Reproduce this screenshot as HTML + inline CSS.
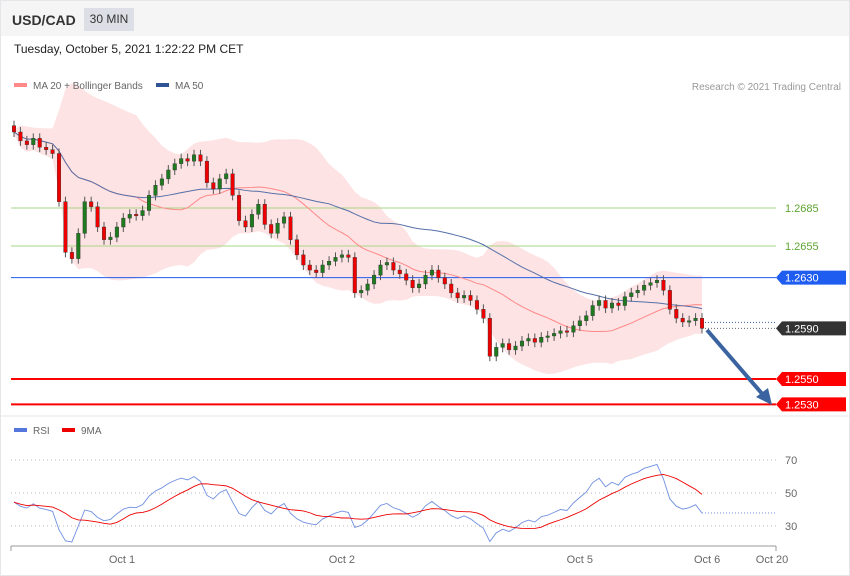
<!DOCTYPE html>
<html><head><meta charset="utf-8">
<style>
body{margin:0;width:850px;height:576px;background:#fff;font-family:"Liberation Sans",sans-serif;overflow:hidden}
#wrap{position:absolute;left:0;top:0;width:848px;height:574px;border:1px solid #e4e6ea}
#hdr{position:absolute;left:0;top:0;width:848px;height:35px;background:#f5f5f6}
#pair{position:absolute;left:11px;top:11px;font-size:14px;font-weight:bold;color:#333}
#tf{position:absolute;left:83px;top:7px;width:50px;height:23px;background:#dcdfe5;font-size:12px;color:#333;text-align:center;line-height:23px}
#date{position:absolute;left:13px;top:41px;font-size:12px;color:#222}
svg{position:absolute;left:0;top:0}
</style></head><body>
<div id="wrap">
<div id="hdr">
<span id="pair">USD/CAD</span>
<span id="tf">30 MIN</span>
</div>
<div id="date">Tuesday, October 5, 2021 1:22:22 PM CET</div>
</div>
<svg id="chart" width="850" height="576"></svg>
<script>
const closes=[1.2745,1.2738,1.2735,1.2740,1.2733,1.2731,1.2728,1.2690,1.2650,1.2645,1.2665,1.2690,1.2686,1.2670,1.2660,1.2662,1.2670,1.2677,1.2680,1.2679,1.2683,1.2695,1.2703,1.2708,1.2715,1.2720,1.2724,1.2722,1.2727,1.2722,1.2705,1.2700,1.2708,1.2712,1.2695,1.2675,1.2670,1.2680,1.2688,1.2672,1.2665,1.2673,1.2678,1.2660,1.2648,1.2640,1.2636,1.2634,1.2640,1.2643,1.2646,1.2648,1.2646,1.2618,1.2620,1.2625,1.2632,1.2640,1.2642,1.2636,1.2633,1.2628,1.2622,1.2625,1.2632,1.2636,1.2630,1.2625,1.2618,1.2614,1.2616,1.2612,1.2605,1.2598,1.2568,1.2575,1.2578,1.2573,1.2576,1.2580,1.2582,1.2579,1.2583,1.2584,1.2586,1.2588,1.2587,1.2592,1.2596,1.2600,1.2608,1.2612,1.2606,1.2610,1.2608,1.2615,1.2618,1.2620,1.2624,1.2626,1.2628,1.2620,1.2605,1.2598,1.2595,1.2596,1.2598,1.2590];
const firstOpen=1.2750;
const rsiSeed=[0.0004,0.0005];
const levels=[1.2685,1.2655,1.2630,1.2590,1.2550,1.2530];
const levelLabels=["1.2685","1.2655","1.2630","1.2590","1.2550","1.2530"];
const rsiTicks=[70,50,30];
const dateLabels=["Oct 1","Oct 2","Oct 5","Oct 6","Oct 20"];
const dateIdx=[16.8,51,88,107.8];

const svg=document.getElementById('chart');
const NS='http://www.w3.org/2000/svg';
function mk(t,a,p){const e=document.createElementNS(NS,t);for(const k in a)e.setAttribute(k,a[k]);(p||svg).appendChild(e);return e;}
const y=p=>208-(p-1.2685)/0.003*38;
const n=closes.length;
const x=i=>14+i*(702-14)/(n-1);
const ry=v=>493-(v-50)*33/20;

function sma(arr,k){return arr.map((_,i)=>{const s=arr.slice(Math.max(0,i-k+1),i+1);return s.reduce((a,b)=>a+b,0)/s.length;});}
const ma20=sma(closes,20),ma50=sma(closes,50);
const sd=closes.map((_,i)=>{const s=closes.slice(Math.max(0,i-19),i+1);const m=ma20[i];return Math.sqrt(s.reduce((a,b)=>a+(b-m)*(b-m),0)/s.length);});
let up=closes.map((_,i)=>x(i)+','+y(ma20[i]+1.9*sd[i]+0.0002));
let dn=closes.map((_,i)=>x(i)+','+y(ma20[i]-1.9*sd[i]-0.0002)).reverse();
const band=mk('polygon',{points:up.concat(dn).join(' '),fill:'#fde3e4'});



const lcol=['#a6d785','#a6d785','#1f5cf0',null,'#f00','#f00'];
levels.forEach((lv,i)=>{
 const yy=y(lv);
 if(i===3){
  const d=mk('line',{x1:702,x2:776,y1:yy,y2:yy,stroke:'#666','stroke-dasharray':'1,2'});
  
  const d2=mk('line',{x1:702,x2:776,y1:yy-6,y2:yy-6,stroke:'#3a63a0','stroke-dasharray':'1,2'});
  
 } else {
  const l=mk('line',{x1:11,x2:776,y1:yy,y2:yy,stroke:lcol[i],'stroke-width':i>=4?2:1});
  
 }
 const g=mk('g',{});
 
 let bg=i===2?'#1f5cf0':i===3?'#333':i>=4?'#f00':null;
 if(bg) mk('polygon',{points:`776,${yy} 782,${yy-7} 846,${yy-7} 846,${yy+7} 782,${yy+7}`,fill:bg},g);
 const t=mk('text',{x:785,y:yy+4,'font-size':11,fill:bg?'#fff':'#5fa531'},g);t.textContent=levelLabels[i];
});

const p20=mk('polyline',{points:closes.map((_,i)=>x(i)+','+y(ma20[i])).join(' '),fill:'none',stroke:'#f88',"stroke-width":1});

const p50=mk('polyline',{points:closes.map((_,i)=>x(i)+','+y(ma50[i])).join(' '),fill:'none',stroke:'#5570a8',"stroke-width":1});


closes.forEach((c,i)=>{
 const o=i?closes[i-1]:firstOpen;
 const g=mk('g',{});
 
 const hi=Math.min(y(o),y(c))-5,lo=Math.max(y(o),y(c))+5;
 mk('line',{x1:x(i),x2:x(i),y1:hi,y2:lo,stroke:'#555'},g);
 const top=Math.min(y(o),y(c)),h=Math.max(1.5,Math.abs(y(o)-y(c)));
 mk('rect',{x:x(i)-1.8,y:top,width:3.6,height:h,fill:c>=o?'#1e7a1e':'#e00',stroke:'#333','stroke-width':0.4},g);
});

const ar=mk('g',{});
mk('line',{x1:707,y1:330,x2:764,y2:396,stroke:'#3a63a0','stroke-width':4},ar);
mk('polygon',{points:'772,405 756,397 768,388',fill:'#3a63a0'},ar);

function leg(xx,yy,col,txt,name){const g=mk('g',{});
 mk('rect',{x:xx,y:yy-3,width:13,height:4,fill:col},g);const t=mk('text',{x:xx+19,y:yy+3,'font-size':10,fill:'#666'},g);t.textContent=txt;}
leg(14,86,'#f88','MA 20 + Bollinger Bands','legend-ma20');
leg(156,86,'#2f5597','MA 50','legend-ma50');
leg(14,431,'#5577dd','RSI','legend-rsi');
leg(62,431,'#e00','9MA','legend-rsi-ma');
const cr=mk('text',{x:841,y:90,'font-size':10,fill:'#999','text-anchor':'end'});cr.textContent='Research © 2021 Trading Central';


const sep=mk('line',{x1:1,x2:849,y1:416,y2:416,stroke:'#e4e6ea'});


// RSI (Wilder 14, seeded)
const rsi=[];let ag=rsiSeed[0],al=rsiSeed[1];
closes.forEach((c,i)=>{
 if(i===0){rsi.push(100-100/(1+ag/al));return;}
 const d=c-closes[i-1],gn=Math.max(d,0),ls=Math.max(-d,0);
 ag=(ag*13+gn)/14;al=(al*13+ls)/14;
 rsi.push(100-100/(1+ag/al));
});
const rma=sma(rsi,9);
rsiTicks.forEach(v=>{
 const l=mk('line',{x1:11,x2:776,y1:ry(v),y2:ry(v),stroke:'#bbb','stroke-dasharray':'1,3'});
 
 const t=mk('text',{x:785,y:ry(v)+4,'font-size':11,fill:'#666'});t.textContent=v;
 
});
const rl=mk('polyline',{points:rsi.map((v,i)=>x(i)+','+ry(v)).join(' '),fill:'none',stroke:'#6f8fe0','stroke-width':0.9});

const rm=mk('polyline',{points:rma.map((v,i)=>x(i)+','+ry(v)).join(' '),fill:'none',stroke:'#e00','stroke-width':0.9});

const rd=mk('line',{x1:702,x2:776,y1:ry(rsi[n-1]),y2:ry(rsi[n-1]),stroke:'#6f8fe0','stroke-dasharray':'1,2'});


const ax=mk('line',{x1:11,x2:776,y1:546,y2:546,stroke:'#999'});

mk('line',{x1:11,x2:11,y1:546,y2:551,stroke:'#999'});
mk('line',{x1:776,x2:776,y1:546,y2:551,stroke:'#999'});
dateLabels.forEach((d,i)=>{
 const xx=i===4?772:x(dateIdx[i]);
 const t=mk('text',{x:xx,y:563,'font-size':11,fill:'#666','text-anchor':'middle'});t.textContent=d;
 
});
</script>
</body></html>
